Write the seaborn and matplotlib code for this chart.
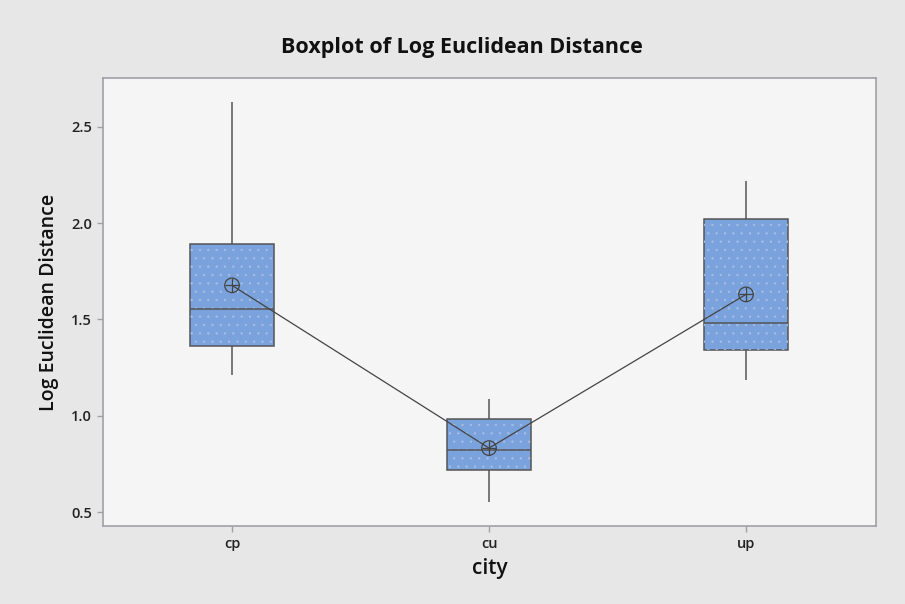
import numpy as np
import pandas as pd
import matplotlib
matplotlib.use("Agg")
import matplotlib.pyplot as plt
from matplotlib.patches import PathPatch
import seaborn as sns

# Five-number summaries per city: lower whisker, Q1, median, Q3, upper whisker
cities = ["cp", "cu", "up"]
cp_summary = [1.209, 1.360, 1.552, 1.891, 2.630]
cu_summary = [0.552, 0.717, 0.822, 0.984, 1.087]
up_summary = [1.185, 1.343, 1.479, 2.021, 2.218]
means = [1.677, 0.832, 1.630]

y_ticks = [0.5, 1.0, 1.5, 2.0, 2.5]

sns.set_theme(style="white")
plt.rcParams["font.family"] = ["Open Sans", "DejaVu Sans"]
plt.rcParams["hatch.linewidth"] = 0.5

long = pd.DataFrame({
    "city": np.repeat(cities, 5),
    "value": cp_summary + cu_summary + up_summary,
})

fig = plt.figure(figsize=(9.05, 6.04), dpi=100)
fig.patch.set_facecolor("#e7e7e7")

ax = fig.add_axes([0.1138, 0.129, 0.8542, 0.742])
ax.set_facecolor("#f5f5f5")

edge = "#555555"
sns.boxplot(
    data=long, x="city", y="value", order=cities, ax=ax,
    whis=(0, 100), width=0.33, color="#7aa2dc", saturation=1,
    linecolor=edge, linewidth=1.1, showcaps=False, fliersize=0,
)
# faint speckle texture on the box fill
for patch in list(ax.patches):
    tex = PathPatch(patch.get_path(), transform=patch.get_transform(),
                    facecolor="none", edgecolor="#a8bde0", linewidth=0,
                    hatch="..", zorder=patch.get_zorder() + 0.01)
    ax.add_patch(tex)

mean_df = pd.DataFrame({"city": cities, "mean": means})
sns.lineplot(data=mean_df, x="city", y="mean", ax=ax, color="#444444",
             linewidth=0.9, sort=False, zorder=5)
ax.scatter(range(3), means, s=110, facecolors="none", edgecolors="#444444",
           linewidths=0.9, zorder=6)
ax.scatter(range(3), means, s=110, marker="+", color="#444444",
           linewidths=0.9, zorder=6)

ax.set_xlim(-0.502, 2.506)
ax.set_ylim(0.427, 2.754)
ax.set_yticks(y_ticks)
ax.set_yticklabels([f"{t:.1f}" for t in y_ticks])

for s in ax.spines.values():
    s.set_color("#a0a0a6")
    s.set_linewidth(1.2)

ax.tick_params(axis="both", which="both", direction="out", length=4,
               width=1, color="#a0a0a6", labelsize=10.5, labelcolor="#222222",
               left=True, bottom=True, pad=4)
for lbl in ax.get_xticklabels() + ax.get_yticklabels():
    lbl.set_fontweight("semibold")

ax.set_xlabel("city", fontsize=15, fontweight="semibold", color="#111111", labelpad=5)
ax.set_ylabel("Log Euclidean Distance", fontsize=14, fontweight="semibold",
              color="#111111", labelpad=9)
fig.text(0.5107, 0.922, "Boxplot of Log Euclidean Distance", ha="center",
         va="center", fontsize=15.5, fontweight="bold", color="#111111")

fig.savefig("out.png", dpi=100, facecolor=fig.get_facecolor())
